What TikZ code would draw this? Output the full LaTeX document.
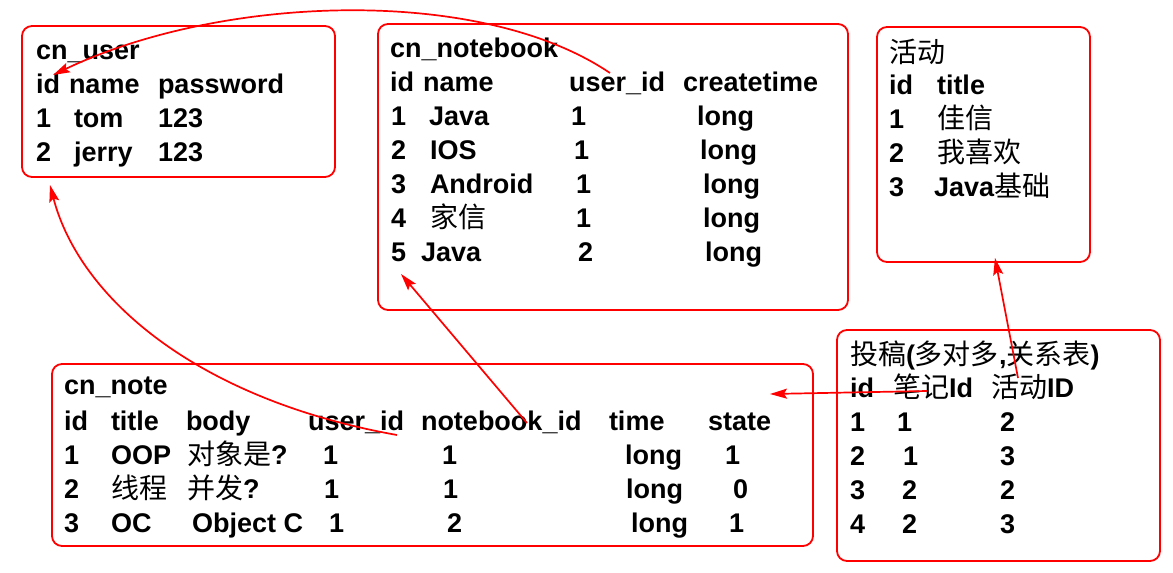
\documentclass[tikz,border=0pt]{standalone}
\usepackage{fontspec}
\setmainfont{Liberation Sans}
\newfontfamily\cjkfont{Noto Sans CJK SC}
\usetikzlibrary{arrows.meta}
\newcommand\zhtxt[1]{{\cjkfont\mdseries\fontsize{28}{28}\selectfont #1}}
\newcommand\tcell[4]{\node[cell] (#1) at (#2,#3) {#4};}
\definecolor{boxred}{RGB}{255,0,0}
\begin{document}
\begin{tikzpicture}[x=1pt,y=-1pt,
  tbl/.style={draw=boxred, line width=1.8pt, rounded corners=10pt, anchor=north west, inner sep=0pt, outer sep=0pt},
  cell/.style={anchor=base west, inner sep=0pt, outer sep=0pt, text=black, font=\bfseries\fontsize{27}{27}\selectfont},
  link/.style={draw=boxred, line width=1.7pt, -{Stealth[length=17pt,width=10pt,inset=3pt]}}]
\useasboundingbox (0,0) rectangle (1173,573);
\fill[white] (0,0) rectangle (1173,573);

% boxes
\node[tbl, minimum width=313pt, minimum height=151pt] (user) at (22,26) {};
\node[tbl, minimum width=470pt, minimum height=286pt] (notebook) at (378,24) {};
\node[tbl, minimum width=213pt, minimum height=235pt] (activity) at (877,27) {};
\node[tbl, minimum width=761pt, minimum height=182pt] (note) at (52,364) {};
\node[tbl, minimum width=323pt, minimum height=231pt] (post) at (837,330) {};

% cn_user
\tcell{u0}{36}{59}{cn\_user}
\tcell{uh1}{36}{93}{id}
\tcell{uh2}{69}{93}{name}
\tcell{uh3}{158}{93}{password}
\tcell{u11}{36}{127}{1}
\tcell{u12}{74}{127}{tom}
\tcell{u13}{158}{127}{123}
\tcell{u21}{36}{161}{2}
\tcell{u22}{74}{161}{jerry}
\tcell{u23}{158}{161}{123}

% cn_notebook
\tcell{b0}{390}{57}{cn\_notebook}
\tcell{bh1}{390}{91}{id}
\tcell{bh2}{423}{91}{name}
\tcell{bh3}{569}{91}{user\_id}
\tcell{bh4}{683}{91}{createtime}
\tcell{b11}{391}{125}{1}
\tcell{b12}{429}{125}{Java}
\tcell{b13}{571}{125}{1}
\tcell{b14}{697}{125}{long}
\tcell{b21}{391}{159}{2}
\tcell{b22}{430}{159}{IOS}
\tcell{b23}{574}{159}{1}
\tcell{b24}{700}{159}{long}
\tcell{b31}{391}{193}{3}
\tcell{b32}{430}{193}{Android}
\tcell{b33}{576}{193}{1}
\tcell{b34}{703}{193}{long}
\tcell{b41}{391}{227}{4}
\tcell{b42}{430}{227}{\zhtxt{家信}}
\tcell{b43}{576}{227}{1}
\tcell{b44}{703}{227}{long}
\tcell{b51}{391}{261}{5}
\tcell{b52}{421}{261}{Java}
\tcell{b53}{578}{261}{2}
\tcell{b54}{705}{261}{long}

% activity
\tcell{a0}{889}{62}{\zhtxt{活动}}
\tcell{ah1}{889}{94}{id}
\tcell{ah2}{937}{94}{title}
\tcell{a11}{889}{128}{1}
\tcell{a12}{937}{128}{\zhtxt{佳信}}
\tcell{a21}{889}{162}{2}
\tcell{a22}{937}{162}{\zhtxt{我喜欢}}
\tcell{a31}{889}{196}{3}
\tcell{a32}{934}{196}{Java\zhtxt{基础}}

% cn_note
\tcell{n0}{64}{394}{cn\_note}
\tcell{nh1}{64}{430}{id}
\tcell{nh2}{111}{430}{title}
\tcell{nh3}{186}{430}{body}
\tcell{nh4}{308}{430}{user\_id}
\tcell{nh5}{421}{430}{notebook\_id}
\tcell{nh6}{609}{430}{time}
\tcell{nh7}{708}{430}{state}
\tcell{n11}{64}{464}{1}
\tcell{n12}{111}{464}{OOP}
\tcell{n13}{187}{464}{\zhtxt{对象是}?}
\tcell{n14}{323}{464}{1}
\tcell{n15}{442}{464}{1}
\tcell{n16}{625}{464}{long}
\tcell{n17}{725}{464}{1}
\tcell{n21}{64}{498}{2}
\tcell{n22}{111}{498}{\zhtxt{线程}}
\tcell{n23}{187}{498}{\zhtxt{并发}?}
\tcell{n24}{324}{498}{1}
\tcell{n25}{443}{498}{1}
\tcell{n26}{626}{498}{long}
\tcell{n27}{733}{498}{0}
\tcell{n31}{64}{532}{3}
\tcell{n32}{111}{532}{OC}
\tcell{n33}{192}{532}{Object C}
\tcell{n34}{329}{532}{1}
\tcell{n35}{447}{532}{2}
\tcell{n36}{631}{532}{long}
\tcell{n37}{729}{532}{1}

% post
\tcell{p0}{850}{364}{\zhtxt{投稿}(\zhtxt{多对多},\zhtxt{关系表})}
\tcell{ph1}{850}{397}{id}
\tcell{ph2}{893}{397}{\zhtxt{笔记}Id}
\tcell{ph3}{991}{397}{\zhtxt{活动}ID}
\tcell{p11}{850}{431}{1}
\tcell{p12}{897}{431}{1}
\tcell{p13}{1000}{431}{2}
\tcell{p21}{850}{465}{2}
\tcell{p22}{903}{465}{1}
\tcell{p23}{1000}{465}{3}
\tcell{p31}{850}{499}{3}
\tcell{p32}{902}{499}{2}
\tcell{p33}{1000}{499}{2}
\tcell{p41}{850}{533}{4}
\tcell{p42}{902}{533}{2}
\tcell{p43}{1000}{533}{3}

% connector endpoints
\coordinate (c1s) at (610,73);
\coordinate (c1e) at (53,75);
\coordinate (c2s) at (397,435);
\coordinate (c2e) at (50,185);
\coordinate (c3s) at (527,423);
\coordinate (c3e) at (401,274);
\coordinate (c4s) at (927,391);
\coordinate (c4e) at (770,394);
\coordinate (c5s) at (1018,378);
\coordinate (c5e) at (995,258);

\draw[link] (c1s) .. controls (480,-15) and (220,-5) .. (c1e);
\draw[link] (c2s) .. controls (200,400) and (80,300) .. (c2e);
\draw[link] (c3s) -- (c3e);
\draw[link] (c4s) -- (c4e);
\draw[link] (c5s) -- (c5e);
\end{tikzpicture}
\end{document}
